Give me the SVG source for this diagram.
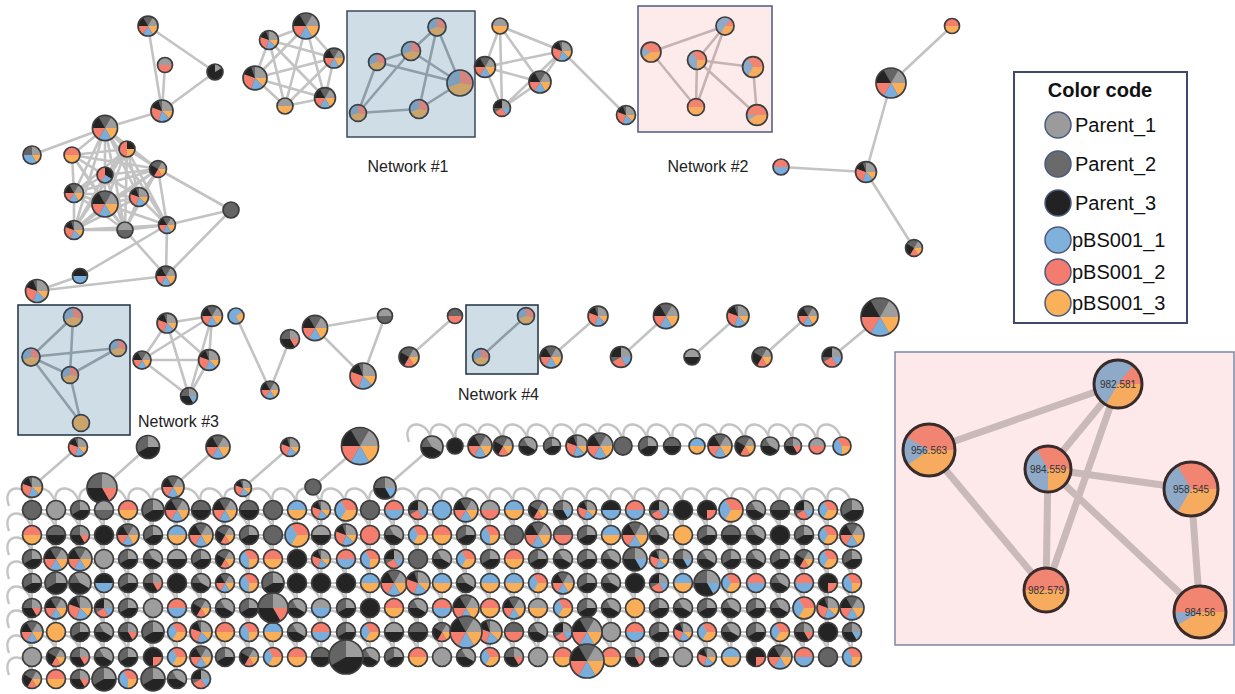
<svg xmlns="http://www.w3.org/2000/svg" width="1235" height="694" viewBox="0 0 1235 694">
<style>
.l{fill:#9d9d9d}.d{fill:#646464}.k{fill:#242424}.b{fill:#79addb}.r{fill:#f57d6d}.o{fill:#fbae58}
.qb{fill:#7e9fbd}.qr{fill:#d4857f}.qo{fill:#cba46c}
.pb{fill:#8eaac8}.pr{fill:#f28572}.po{fill:#f7ab5f}
.ol{fill:none;stroke:#3d3d3d;stroke-width:1.7;vector-effect:non-scaling-stroke}
.oq{fill:none;stroke:#35414c;stroke-width:1.7;vector-effect:non-scaling-stroke}
.e{fill:none;stroke:#c3c3c3;stroke-width:2.6}
.eq{fill:none;stroke:#8e9ea9;stroke-width:2.6}
.ep{fill:none;stroke:#c6b2b2;stroke-width:2.6}
.ei{fill:none;stroke:#c9b9b9;stroke-width:7}
.lp{fill:none;stroke:#c4c4c4;stroke-width:2.4}
.gr{fill:none;stroke:#c7c7c7;stroke-width:2}
.row{fill:none;stroke:#c7c7c7;stroke-width:2;marker-start:url(#lp);marker-mid:url(#lp);marker-end:url(#lp)}
.ring{fill:none;stroke:#3a2b2b;stroke-width:3}
.nl{font-family:"Liberation Sans",Arial,sans-serif;font-size:16px;fill:#222}
.il{font-family:"Liberation Sans",Arial,sans-serif;font-size:10px;fill:#333;text-anchor:middle}
.lg{font-family:"Liberation Sans",Arial,sans-serif;font-size:20px;fill:#111}
.lc{stroke:#4b5a7e;stroke-width:1.5}
</style>
<defs>
<marker id="lp" markerUnits="userSpaceOnUse" markerWidth="50" markerHeight="50" refX="40" refY="40" orient="0" overflow="visible"><path class="lp" d="M40 40C40 12 8 12 17 36"/></marker>
<g id="M"><circle r="9.5" class="d"/><path class="l" d="M0 0L4.75-8.23A9.5 9.5 0 0 1 9.5 0z"/><path class="o" d="M0 0L9.5 0A9.5 9.5 0 0 1 4.75 8.23z"/><path class="b" d="M0 0L4.75 8.23A9.5 9.5 0 0 1-4.75 8.23z"/><path class="r" d="M0 0L-4.75 8.23A9.5 9.5 0 0 1-9.5 0z"/><path class="k" d="M0 0L-9.5 0A9.5 9.5 0 0 1-4.75-8.23z"/><circle r="9.5" class="ol"/></g>
<g id="N"><circle r="9.5" class="d"/><path class="l" d="M0 0L0-9.5A9.5 9.5 0 0 1 9.5 0z"/><path class="o" d="M0 0L9.5 0A9.5 9.5 0 0 1 6.72 6.72z"/><path class="b" d="M0 0L6.72 6.72A9.5 9.5 0 0 1-3.25 8.93z"/><path class="r" d="M0 0L-3.25 8.93A9.5 9.5 0 0 1-8.93-3.25z"/><path class="k" d="M0 0L-8.93-3.25A9.5 9.5 0 0 1-3.25-8.93z"/><circle r="9.5" class="ol"/></g>
<g id="G"><circle r="9.5" class="d"/><path class="l" d="M0 0L0-9.5A9.5 9.5 0 0 1 9.5 0z"/><path class="k" d="M0 0L9.5 0A9.5 9.5 0 0 1-8.23 4.75z"/><circle r="9.5" class="ol"/></g>
<g id="H"><circle r="9.5" class="d"/><path class="l" d="M0 0L-4.75-8.23A9.5 9.5 0 0 1 8.23 4.75z"/><path class="k" d="M0 0L8.23 4.75A9.5 9.5 0 0 1-9.5 0z"/><circle r="9.5" class="ol"/></g>
<g id="GR"><circle r="9.5" class="d"/><path class="l" d="M0 0L0-9.5A9.5 9.5 0 0 1 9.5 0z"/><path class="r" d="M0 0L9.5 0A9.5 9.5 0 0 1 4.75 8.23z"/><path class="k" d="M0 0L4.75 8.23A9.5 9.5 0 0 1-9.5 0z"/><circle r="9.5" class="ol"/></g>
<g id="GB"><circle r="9.5" class="d"/><path class="l" d="M0 0L0-9.5A9.5 9.5 0 0 1 9.5 0z"/><path class="b" d="M0 0L9.5 0A9.5 9.5 0 0 1 4.75 8.23z"/><path class="k" d="M0 0L4.75 8.23A9.5 9.5 0 0 1-9.5 0z"/><circle r="9.5" class="ol"/></g>
<g id="GRO"><circle r="9.5" class="d"/><path class="l" d="M0 0L4.75-8.23A9.5 9.5 0 0 1 9.5 0z"/><path class="o" d="M0 0L9.5 0A9.5 9.5 0 0 1 4.75 8.23z"/><path class="r" d="M0 0L4.75 8.23A9.5 9.5 0 0 1-4.75 8.23z"/><path class="k" d="M0 0L-4.75 8.23A9.5 9.5 0 0 1-8.23-4.75z"/><circle r="9.5" class="ol"/></g>
<g id="GRB"><circle r="9.5" class="d"/><path class="k" d="M0 0L-9.5 0A9.5 9.5 0 0 1 0-9.5z"/><path class="l" d="M0 0L0-9.5A9.5 9.5 0 0 1 9.5 0z"/><path class="b" d="M0 0L9.5 0A9.5 9.5 0 0 1 4.75 8.23z"/><path class="r" d="M0 0L4.75 8.23A9.5 9.5 0 0 1-8.23 4.75z"/><circle r="9.5" class="ol"/></g>
<g id="GBO"><circle r="9.5" class="d"/><path class="l" d="M0 0L0-9.5A9.5 9.5 0 0 1 9.5 0z"/><path class="o" d="M0 0L9.5 0A9.5 9.5 0 0 1 4.75 8.23z"/><path class="b" d="M0 0L4.75 8.23A9.5 9.5 0 0 1-9.5 0z"/><circle r="9.5" class="ol"/></g>
<g id="RO"><circle r="9.5" class="o"/><path class="r" d="M-9.5 0A9.5 9.5 0 0 1 9.5 0z"/><circle r="9.5" class="ol"/></g>
<g id="BO"><circle r="9.5" class="o"/><path class="b" d="M-9.5 0A9.5 9.5 0 0 1 9.5 0z"/><circle r="9.5" class="ol"/></g>
<g id="RB"><circle r="9.5" class="b"/><path class="r" d="M-9.5 0A9.5 9.5 0 0 1 9.5 0z"/><circle r="9.5" class="ol"/></g>
<g id="LR"><circle r="9.5" class="r"/><path class="l" d="M-9.5 0A9.5 9.5 0 0 1 9.5 0z"/><circle r="9.5" class="ol"/></g>
<g id="DK"><circle r="9.5" class="k"/><path class="d" d="M-9.5 0A9.5 9.5 0 0 1 9.5 0z"/><circle r="9.5" class="ol"/></g>
<g id="LK"><circle r="9.5" class="k"/><path class="l" d="M-9.5 0A9.5 9.5 0 0 1 9.5 0z"/><circle r="9.5" class="ol"/></g>
<g id="KB"><circle r="9.5" class="b"/><path class="k" d="M-9.5 0A9.5 9.5 0 0 1 9.5 0z"/><circle r="9.5" class="ol"/></g>
<g id="DR"><circle r="9.5" class="r"/><path class="d" d="M-9.5 0A9.5 9.5 0 0 1 9.5 0z"/><circle r="9.5" class="ol"/></g>
<g id="LO"><circle r="9.5" class="o"/><path class="l" d="M-9.5 0A9.5 9.5 0 0 1 9.5 0z"/><circle r="9.5" class="ol"/></g>
<g id="LD"><circle r="9.5" class="d"/><path class="l" d="M-9.5 0A9.5 9.5 0 0 1 9.5 0z"/><circle r="9.5" class="ol"/></g>
<g id="LB"><circle r="9.5" class="b"/><path class="l" d="M-9.5 0A9.5 9.5 0 0 1 9.5 0z"/><circle r="9.5" class="ol"/></g>
<g id="RBO"><circle r="9.5" class="o"/><path class="r" d="M0 0L-4.75-8.23A9.5 9.5 0 0 1 9.5 0z"/><path class="b" d="M0 0L-4.75 8.23A9.5 9.5 0 0 1-4.75-8.23z"/><circle r="9.5" class="ol"/></g>
<g id="BRO"><circle r="9.5" class="o"/><path class="b" d="M0 0L0 9.5A9.5 9.5 0 0 1-4.75-8.23z"/><path class="r" d="M0 0L-4.75-8.23A9.5 9.5 0 0 1 9.5 0z"/><circle r="9.5" class="ol"/></g>
<g id="KR"><circle r="9.5" class="k"/><path class="r" d="M0 0L9.5 0A9.5 9.5 0 0 1 0 9.5z"/><circle r="9.5" class="ol"/></g>
<g id="KL"><circle r="9.5" class="k"/><path class="l" d="M0 0L0-9.5A9.5 9.5 0 0 1 8.23-4.75z"/><circle r="9.5" class="ol"/></g>
<g id="RKO"><circle r="9.5" class="r"/><path class="k" d="M0 0L0-9.5A9.5 9.5 0 0 1 9.5 0z"/><path class="o" d="M0 0L9.5 0A9.5 9.5 0 0 1 0 9.5z"/><circle r="9.5" class="ol"/></g>
<g id="RKB"><circle r="9.5" class="r"/><path class="k" d="M0 0L0-9.5A9.5 9.5 0 0 1 8.23 4.75z"/><path class="b" d="M0 0L8.23 4.75A9.5 9.5 0 0 1-4.75 8.23z"/><circle r="9.5" class="ol"/></g>
<g id="BO2"><circle r="9.5" class="b"/><path class="o" d="M0 0L8.23-4.75A9.5 9.5 0 0 1 4.75 8.23z"/><circle r="9.5" class="ol"/></g>
<g id="sL"><circle r="9.5" class="l"/><circle r="9.5" class="ol"/></g>
<g id="sD"><circle r="9.5" class="d"/><circle r="9.5" class="ol"/></g>
<g id="sK"><circle r="9.5" class="k"/><circle r="9.5" class="ol"/></g>
<g id="sO"><circle r="9.5" class="o"/><circle r="9.5" class="ol"/></g>
<g id="sB"><circle r="9.5" class="b"/><circle r="9.5" class="ol"/></g>
<g id="sR"><circle r="9.5" class="r"/><circle r="9.5" class="ol"/></g>
<g id="mA"><circle r="9.5" class="qo"/><path class="qr" d="M0 0L0-9.5A9.5 9.5 0 0 1 9.36 1.65z"/><path class="qb" d="M0 0L-8.93 3.25A9.5 9.5 0 0 1 0-9.5z"/><circle r="9.5" class="oq"/></g>
<g id="mO"><circle r="9.5" class="qo"/><circle r="9.5" class="oq"/></g>
<g id="p581"><circle r="9.5" class="pb"/><path class="pr" d="M0 0L6.11-7.28A9.5 9.5 0 0 1 9.5 0z"/><path class="po" d="M0 0L9.5 0A9.5 9.5 0 0 1-4.75 8.23z"/><circle r="9.5" class="ol"/></g>
<g id="p563"><circle r="9.5" class="pb"/><path class="pr" d="M0 0L-8.23-4.75A9.5 9.5 0 0 1 9.5 0z"/><path class="po" d="M0 0L9.5 0A9.5 9.5 0 0 1-7.78 5.45z"/><circle r="9.5" class="ol"/></g>
<g id="p559"><circle r="9.5" class="pb"/><path class="pr" d="M0 0L-4.75-8.23A9.5 9.5 0 0 1 9.5 0z"/><path class="po" d="M0 0L9.5 0A9.5 9.5 0 0 1 0 9.5z"/><circle r="9.5" class="ol"/></g>
<g id="p545"><circle r="9.5" class="pb"/><path class="pr" d="M0 0L-4.75-8.23A9.5 9.5 0 0 1 9.5 0z"/><path class="po" d="M0 0L9.5 0A9.5 9.5 0 0 1-4.75 8.23z"/><circle r="9.5" class="ol"/></g>
<g id="p579"><circle r="9.5" class="po"/><path class="pr" d="M-9.5 0A9.5 9.5 0 0 1 9.5 0z"/><circle r="9.5" class="ol"/></g>
<g id="p56"><circle r="9.5" class="pb"/><path class="pr" d="M-9.5 0A9.5 9.5 0 0 1 9.5 0z"/><path class="po" d="M0 0L9.5 0A9.5 9.5 0 0 1-8.23 4.75z"/><circle r="9.5" class="ol"/></g>
</defs>
<rect width="1235" height="694" fill="#fff"/>
<g id="boxes">
<rect x="347" y="11" width="128" height="126" fill="#cedde6" stroke="#3a4b5a" stroke-width="1.5"/>
<rect x="638" y="6" width="134" height="126" fill="#fdeaea" stroke="#4d5a80" stroke-width="1.5"/>
<rect x="18" y="305" width="112" height="130" fill="#cedde6" stroke="#1f3142" stroke-width="1.5"/>
<rect x="466" y="305" width="72" height="69" fill="#cedde6" stroke="#1f3142" stroke-width="1.5"/>
<rect x="895" y="352" width="339" height="293" fill="#fde9e9" stroke="#7b87a6" stroke-width="1.5"/>
</g>
<g id="connectors">
<path class="e" d="M148 26L215 72M148 26L162 111M165 65L162 111M215 72L162 111M162 111L105 128M105 128L32 155M105 128L72 155M105 128L127 149M105 128L158 169M105 128L105 175M105 128L74 193M105 128L139 197M105 128L105 204M105 128L74 230M105 128L125 230M105 128L167 225M72 155L127 149M72 155L158 169M72 155L105 175M72 155L74 193M72 155L139 197M72 155L105 204M72 155L125 230M127 149L158 169M127 149L105 175M127 149L74 193M127 149L139 197M127 149L105 204M127 149L74 230M127 149L125 230M127 149L167 225M158 169L105 175M158 169L74 193M158 169L139 197M158 169L105 204M158 169L74 230M158 169L125 230M158 169L167 225M158 169L231 210M105 175L74 193M105 175L139 197M105 175L105 204M105 175L74 230M105 175L125 230M74 193L139 197M74 193L105 204M74 193L74 230M74 193L125 230M139 197L105 204M139 197L74 230M139 197L125 230M139 197L167 225M105 204L74 230M105 204L125 230M105 204L167 225M74 230L125 230M74 230L167 225M125 230L167 225M125 230L166 276M167 225L231 210M167 225L166 276M167 225L80 276M231 210L166 276M80 276L37 291M37 291L166 276"/>
<path class="e" d="M269 40L306 26M269 40L334 58M269 40L255 78M269 40L325 98M269 40L285 106M306 26L334 58M306 26L255 78M306 26L325 98M306 26L285 106M334 58L255 78M334 58L325 98M334 58L285 106M255 78L325 98M255 78L285 106M325 98L285 106"/>
<path class="eq" d="M437 27L411 51M437 27L419 109M437 27L460 83M411 51L377 62M411 51L460 83M411 51L358 113M377 62L460 83M377 62L358 113M419 109L460 83M358 113L419 109"/>
<path class="e" d="M500 26L485 67M500 26L540 82M500 26L502 108M500 26L562 51M485 67L562 51M485 67L540 82M485 67L502 108M562 51L540 82M562 51L502 108M540 82L502 108M562 51L626 115"/>
<path class="ep" d="M725 26L651 52M725 26L697 60M725 26L696 107M651 52L696 107M697 60L753 67M697 60L696 107M697 60L757 115M753 67L757 115"/>
<path class="e" d="M952 26L891 83M891 83L866 172M781 167L866 172M866 172L914 248"/>
<path class="eq" d="M73 317L31 357M73 317L70 375M31 357L118 348M31 357L70 375M31 357L81 423M70 375L118 348M70 375L81 423M526 316L481 357"/>
<path class="e" d="M167 323L212 316M167 323L142 360M167 323L209 360M167 323L189 396M212 316L142 360M212 316L209 360M212 316L189 396M142 360L209 360M142 360L189 396M209 360L189 396M236 316L270 390M270 390L290 339M315 328L385 316M315 328L363 376M385 316L363 376M409 357L455 316M551 357L598 316M621 357L666 316M692 357L738 316M762 357L808 316M832 357L880 317"/>
<path class="e" d="M78 447L32 487M148 447L102 488M218 447L173 487M290 447L243 488M360 446L313 487M432 447L385 488"/>
<path class="gr" d="M32 510V679M56 510V679M80 510V679M104 510V679M128 510V679M153 510V679M177 510V679M201 510V679M225 510V657M249 510V657M273 510V657M297 510V657M321 510V657M346 510V657M370 510V657M394 510V657M418 510V657M442 510V657M466 510V657M490 510V657M514 510V657M538 510V657M563 510V657M587 510V657M611 510V657M635 510V657M659 510V657M683 510V657M707 510V657M731 510V657M756 510V657M780 510V657M804 510V657M828 510V657M852 510V657"/>
<path class="row" d="M432 446H455H480H503H528H552H577H600H623H648H672H697H720H745H770H793H817H842"/>
<path class="row" d="M32 510H56H80H104H128H153H177H201H225H249H273H297H321H346H370H394H418H442H466H490H514H538H563H587H611H635H659H683H707H731H756H780H804H828H852"/>
<path class="row" d="M32 535H56H80H104H128H153H177H201H225H249H273H297H321H346H370H394H418H442H466H490H514H538H563H587H611H635H659H683H707H731H756H780H804H828H852"/>
<path class="row" d="M32 559H56H80H104H128H153H177H201H225H249H273H297H321H346H370H394H418H442H466H490H514H538H563H587H611H635H659H683H707H731H756H780H804H828H852"/>
<path class="row" d="M32 583H56H80H104H128H153H177H201H225H249H273H297H321H346H370H394H418H442H466H490H514H538H563H587H611H635H659H683H707H731H756H780H804H828H852"/>
<path class="row" d="M32 608H56H80H104H128H153H177H201H225H249H273H297H321H346H370H394H418H442H466H490H514H538H563H587H611H635H659H683H707H731H756H780H804H828H852"/>
<path class="row" d="M32 632H56H80H104H128H153H177H201H225H249H273H297H321H346H370H394H418H442H466H490H514H538H563H587H611H635H659H683H707H731H756H780H804H828H852"/>
<path class="row" d="M32 657H56H80H104H128H153H177H201H225H249H273H297H321H346H370H394H418H442H466H490H514H538H563H587H611H635H659H683H707H731H756H780H804H828H852"/>
<path class="row" d="M32 679H56H80H104H128H153H177H201"/>
<path class="ei" d="M1118 384L929 450M1118 384L1048 469M1118 384L1046 590M929 450L1046 590M1048 469L1191 489M1048 469L1046 590M1048 469L1200 612M1191 489L1200 612"/>
</g>
<g id="top-nodes">
<g id="n1"><use href="#M" transform="translate(148 26) scale(1.05)"/></g>
<g id="n2"><use href="#LR" transform="translate(165 65) scale(.79)"/></g>
<g id="n3"><use href="#KL" transform="translate(215 72) scale(.84)"/></g>
<g id="n4"><use href="#N" transform="translate(162 111) scale(1.16)"/></g>
<g id="n5"><use href="#M" transform="translate(105 128) scale(1.32)"/></g>
<g id="n6"><use href="#GBO" transform="translate(32 155) scale(.95)"/></g>
<g id="n7"><use href="#RO" transform="translate(72 155) scale(.84)"/></g>
<g id="n8"><use href="#RKO" transform="translate(127 149) scale(.84)"/></g>
<g id="n9"><use href="#GRO" transform="translate(158 169) scale(.89)"/></g>
<g id="n10"><use href="#RKB" transform="translate(105 175) scale(.84)"/></g>
<g id="n11"><use href="#M" x="74" y="193"/></g>
<g id="n12"><use href="#N" x="139" y="197"/></g>
<g id="n13"><use href="#M" transform="translate(105 204) scale(1.37)"/></g>
<g id="n14"><use href="#sD" transform="translate(231 210) scale(.84)"/></g>
<g id="n15"><use href="#N" x="74" y="230"/></g>
<g id="n16"><use href="#LD" transform="translate(125 230) scale(.84)"/></g>
<g id="n17"><use href="#M" transform="translate(167 225) scale(.89)"/></g>
<g id="n18"><use href="#KB" transform="translate(80 276) scale(.79)"/></g>
<g id="n19"><use href="#M" transform="translate(166 276) scale(1.05)"/></g>
<g id="n20"><use href="#N" transform="translate(37 291) scale(1.21)"/></g>
<g id="a1"><use href="#N" x="269" y="40"/></g>
<g id="a2"><use href="#M" transform="translate(306 26) scale(1.37)"/></g>
<g id="a3"><use href="#M" transform="translate(334 58) scale(1.05)"/></g>
<g id="a4"><use href="#N" transform="translate(255 78) scale(1.26)"/></g>
<g id="a5"><use href="#M" transform="translate(325 98) scale(1.1)"/></g>
<g id="a6"><use href="#LO" transform="translate(285 106) scale(.84)"/></g>
<g id="b1"><use href="#mA" transform="translate(437 27) scale(.95)"/></g>
<g id="b2"><use href="#mA" x="411" y="51"/></g>
<g id="b3"><use href="#mA" transform="translate(377 62) scale(.89)"/></g>
<g id="b4"><use href="#mA" transform="translate(460 83) scale(1.37)"/></g>
<g id="b5"><use href="#mA" x="419" y="109"/></g>
<g id="b6"><use href="#mA" transform="translate(358 113) scale(.89)"/></g>
<g id="c1"><use href="#LO" transform="translate(500 26) scale(.84)"/></g>
<g id="c2"><use href="#M" transform="translate(485 67) scale(1.1)"/></g>
<g id="c3"><use href="#N" transform="translate(562 51) scale(1.05)"/></g>
<g id="c4"><use href="#M" transform="translate(540 82) scale(1.16)"/></g>
<g id="c5"><use href="#GRB" transform="translate(502 108) scale(.89)"/></g>
<g id="c6"><use href="#N" x="626" y="115"/></g>
<g id="d1"><use href="#p581" transform="translate(725 26) scale(.95)"/></g>
<g id="d2"><use href="#p563" transform="translate(651 52) scale(1.05)"/></g>
<g id="d3"><use href="#p559" x="697" y="60"/></g>
<g id="d4"><use href="#p545" transform="translate(753 67) scale(1.1)"/></g>
<g id="d5"><use href="#p579" transform="translate(696 107) scale(.89)"/></g>
<g id="d6"><use href="#p56" transform="translate(757 115) scale(1.1)"/></g>
<g id="e1"><use href="#RO" transform="translate(952 26) scale(.79)"/></g>
<g id="e2"><use href="#M" transform="translate(891 83) scale(1.58)"/></g>
<g id="e3"><use href="#RB" transform="translate(781 167) scale(.84)"/></g>
<g id="e4"><use href="#N" transform="translate(866 172) scale(1.1)"/></g>
<g id="e5"><use href="#GRO" transform="translate(914 248) scale(.89)"/></g>
</g>
<g id="mid-nodes">
<g id="f1"><use href="#mA" x="73" y="317"/></g>
<g id="f2"><use href="#mA" transform="translate(31 357) scale(.95)"/></g>
<g id="f3"><use href="#mA" transform="translate(118 348) scale(.89)"/></g>
<g id="f4"><use href="#mA" transform="translate(70 375) scale(.89)"/></g>
<g id="f5"><use href="#mO" transform="translate(81 423) scale(.89)"/></g>
<g id="g1"><use href="#N" transform="translate(167 323) scale(1.05)"/></g>
<g id="g2"><use href="#M" transform="translate(212 316) scale(1.1)"/></g>
<g id="g3"><use href="#M" transform="translate(142 360) scale(.95)"/></g>
<g id="g4"><use href="#N" transform="translate(209 360) scale(1.1)"/></g>
<g id="g5"><use href="#GB" transform="translate(189 396) scale(.89)"/></g>
<g id="h1"><use href="#BO2" transform="translate(236 316) scale(.84)"/></g>
<g id="h2"><use href="#M" transform="translate(270 390) scale(.95)"/></g>
<g id="h3"><use href="#GR" x="290" y="339"/></g>
<g id="i1"><use href="#M" transform="translate(315 328) scale(1.32)"/></g>
<g id="i2"><use href="#LD" transform="translate(385 316) scale(.79)"/></g>
<g id="i3"><use href="#N" transform="translate(363 376) scale(1.37)"/></g>
<g id="j1"><use href="#GRO" transform="translate(409 357) scale(1.05)"/></g>
<g id="j2"><use href="#DR" transform="translate(455 316) scale(.79)"/></g>
<g id="k1"><use href="#mA" transform="translate(526 316) scale(.89)"/></g>
<g id="k2"><use href="#mA" transform="translate(481 357) scale(.89)"/></g>
<g id="q1"><use href="#M" transform="translate(551 357) scale(1.16)"/></g>
<g id="q2"><use href="#N" transform="translate(598 316) scale(1.05)"/></g>
<g id="q3"><use href="#GRB" transform="translate(621 357) scale(1.1)"/></g>
<g id="q4"><use href="#M" transform="translate(666 316) scale(1.32)"/></g>
<g id="q5"><use href="#LK" transform="translate(692 357) scale(.84)"/></g>
<g id="q6"><use href="#N" transform="translate(738 316) scale(1.16)"/></g>
<g id="q7"><use href="#GRO" transform="translate(762 357) scale(1.05)"/></g>
<g id="q8"><use href="#M" transform="translate(808 316) scale(1.05)"/></g>
<g id="q9"><use href="#GRB" transform="translate(832 357) scale(1.05)"/></g>
<g id="q10"><use href="#M" transform="translate(880 317) scale(2)"/></g>
</g>
<g id="grid-nodes">
<g id="ra1"><use href="#N" x="78" y="447"/></g>
<g id="ra2"><use href="#G" transform="translate(148 447) scale(1.21)"/></g>
<g id="ra3"><use href="#M" transform="translate(218 447) scale(1.26)"/></g>
<g id="ra4"><use href="#N" x="290" y="447"/></g>
<g id="ra5"><use href="#M" transform="translate(360 446) scale(1.95)"/></g>
<g id="ra6"><use href="#H" transform="translate(432 447) scale(1.16)"/></g>
<g id="rb1"><use href="#N" transform="translate(32 487) scale(1.1)"/></g>
<g id="rb2"><use href="#GR" transform="translate(102 488) scale(1.58)"/></g>
<g id="rb3"><use href="#M" transform="translate(173 487) scale(1.16)"/></g>
<g id="rb4"><use href="#N" transform="translate(243 488) scale(.89)"/></g>
<g id="rb5"><use href="#sD" transform="translate(313 487) scale(.84)"/></g>
<g id="rb6"><use href="#GB" transform="translate(385 488) scale(1.16)"/></g>
<g id="ch1"><use href="#sK" transform="translate(455 446) scale(.84)"/></g>
<g id="ch2"><use href="#M" transform="translate(480 446) scale(1.26)"/></g>
<g id="ch3"><use href="#GRO" transform="translate(503 446) scale(1.05)"/></g>
<g id="ch4"><use href="#H" transform="translate(528 446) scale(.95)"/></g>
<g id="ch5"><use href="#G" transform="translate(552 446) scale(.89)"/></g>
<g id="ch6"><use href="#N" transform="translate(577 446) scale(1.16)"/></g>
<g id="ch7"><use href="#M" transform="translate(600 446) scale(1.37)"/></g>
<g id="ch8"><use href="#sD" transform="translate(623 446) scale(.95)"/></g>
<g id="ch9"><use href="#G" x="648" y="446"/></g>
<g id="ch10"><use href="#DK" transform="translate(672 446) scale(.89)"/></g>
<g id="ch11"><use href="#BO" transform="translate(697 446) scale(.84)"/></g>
<g id="ch12"><use href="#M" transform="translate(720 446) scale(1.26)"/></g>
<g id="ch13"><use href="#GRO" transform="translate(745 446) scale(1.05)"/></g>
<g id="ch14"><use href="#H" transform="translate(770 446) scale(.95)"/></g>
<g id="ch15"><use href="#GR" transform="translate(793 446) scale(.89)"/></g>
<g id="ch16"><use href="#LR" transform="translate(817 446) scale(.84)"/></g>
<g id="ch17"><use href="#BRO" transform="translate(842 446) scale(.95)"/></g>
<g id="r0c0"><use href="#sD" x="32" y="510"/></g><g id="r0c1"><use href="#sL" x="56" y="510"/></g><g id="r0c2"><use href="#G" x="80" y="510"/></g><g id="r0c3"><use href="#LD" x="104" y="510"/></g><g id="r0c4"><use href="#RO" x="128" y="510"/></g><g id="r0c7"><use href="#DK" x="201" y="510"/></g><g id="r0c9"><use href="#DK" x="249" y="510"/></g><g id="r0c10"><use href="#sD" x="273" y="510"/></g><g id="r0c11"><use href="#BO" x="297" y="510"/></g><g id="r0c12"><use href="#N" x="321" y="510"/></g><g id="r0c14"><use href="#sD" x="370" y="510"/></g><g id="r0c15"><use href="#RB" x="394" y="510"/></g><g id="r0c16"><use href="#GRB" x="418" y="510"/></g><g id="r0c17"><use href="#sB" x="442" y="510"/></g><g id="r0c19"><use href="#LR" x="490" y="510"/></g><g id="r0c20"><use href="#BO" x="514" y="510"/></g><g id="r0c21"><use href="#GRO" x="538" y="510"/></g><g id="r0c22"><use href="#GB" x="563" y="510"/></g><g id="r0c23"><use href="#N" x="587" y="510"/></g><g id="r0c24"><use href="#KB" x="611" y="510"/></g><g id="r0c25"><use href="#RB" x="635" y="510"/></g><g id="r0c26"><use href="#GRB" x="659" y="510"/></g><g id="r0c27"><use href="#sK" x="683" y="510"/></g><g id="r0c28"><use href="#KR" x="707" y="510"/></g><g id="r0c30"><use href="#H" x="756" y="510"/></g><g id="r0c31"><use href="#DK" x="780" y="510"/></g><g id="r0c32"><use href="#GRB" x="804" y="510"/></g><g id="r0c33"><use href="#RBO" x="828" y="510"/></g>
<g id="r1c0"><use href="#RO" x="32" y="535"/></g><g id="r1c1"><use href="#DK" x="56" y="535"/></g><g id="r1c2"><use href="#GR" x="80" y="535"/></g><g id="r1c3"><use href="#sK" x="104" y="535"/></g><g id="r1c5"><use href="#G" x="153" y="535"/></g><g id="r1c6"><use href="#BO" x="177" y="535"/></g><g id="r1c8"><use href="#GRO" x="225" y="535"/></g><g id="r1c9"><use href="#G" x="249" y="535"/></g><g id="r1c10"><use href="#sD" x="273" y="535"/></g><g id="r1c12"><use href="#LK" x="321" y="535"/></g><g id="r1c14"><use href="#sR" x="370" y="535"/></g><g id="r1c15"><use href="#H" x="394" y="535"/></g><g id="r1c16"><use href="#RBO" x="418" y="535"/></g><g id="r1c17"><use href="#RO" x="442" y="535"/></g><g id="r1c18"><use href="#G" x="466" y="535"/></g><g id="r1c19"><use href="#BRO" x="490" y="535"/></g><g id="r1c20"><use href="#sD" x="514" y="535"/></g><g id="r1c22"><use href="#DR" x="563" y="535"/></g><g id="r1c23"><use href="#G" x="587" y="535"/></g><g id="r1c24"><use href="#BO" x="611" y="535"/></g><g id="r1c26"><use href="#H" x="659" y="535"/></g><g id="r1c27"><use href="#sO" x="683" y="535"/></g><g id="r1c28"><use href="#G" x="707" y="535"/></g><g id="r1c29"><use href="#DK" x="731" y="535"/></g><g id="r1c30"><use href="#H" x="756" y="535"/></g><g id="r1c31"><use href="#sK" x="780" y="535"/></g><g id="r1c32"><use href="#G" x="804" y="535"/></g><g id="r1c33"><use href="#RBO" x="828" y="535"/></g>
<g id="r2c0"><use href="#G" x="32" y="559"/></g><g id="r2c3"><use href="#sL" x="104" y="559"/></g><g id="r2c4"><use href="#G" x="128" y="559"/></g><g id="r2c5"><use href="#H" x="153" y="559"/></g><g id="r2c6"><use href="#LK" x="177" y="559"/></g><g id="r2c7"><use href="#G" x="201" y="559"/></g><g id="r2c8"><use href="#GRO" x="225" y="559"/></g><g id="r2c9"><use href="#BRO" x="249" y="559"/></g><g id="r2c10"><use href="#RO" x="273" y="559"/></g><g id="r2c11"><use href="#sK" x="297" y="559"/></g><g id="r2c12"><use href="#N" x="321" y="559"/></g><g id="r2c13"><use href="#RB" x="346" y="559"/></g><g id="r2c14"><use href="#BRO" x="370" y="559"/></g><g id="r2c15"><use href="#GRB" x="394" y="559"/></g><g id="r2c16"><use href="#sD" x="418" y="559"/></g><g id="r2c17"><use href="#H" x="442" y="559"/></g><g id="r2c18"><use href="#RBO" x="466" y="559"/></g><g id="r2c19"><use href="#G" x="490" y="559"/></g><g id="r2c20"><use href="#RO" x="514" y="559"/></g><g id="r2c21"><use href="#G" x="538" y="559"/></g><g id="r2c22"><use href="#H" x="563" y="559"/></g><g id="r2c23"><use href="#G" x="587" y="559"/></g><g id="r2c24"><use href="#H" x="611" y="559"/></g><g id="r2c26"><use href="#N" x="659" y="559"/></g><g id="r2c27"><use href="#GB" x="683" y="559"/></g><g id="r2c28"><use href="#H" x="707" y="559"/></g><g id="r2c29"><use href="#G" x="731" y="559"/></g><g id="r2c30"><use href="#H" x="756" y="559"/></g><g id="r2c31"><use href="#G" x="780" y="559"/></g><g id="r2c32"><use href="#GRO" x="804" y="559"/></g><g id="r2c33"><use href="#RBO" x="828" y="559"/></g><g id="r2c34"><use href="#G" x="852" y="559"/></g>
<g id="r3c0"><use href="#G" x="32" y="583"/></g><g id="r3c3"><use href="#KB" x="104" y="583"/></g><g id="r3c4"><use href="#G" x="128" y="583"/></g><g id="r3c5"><use href="#GR" x="153" y="583"/></g><g id="r3c6"><use href="#sK" x="177" y="583"/></g><g id="r3c7"><use href="#H" x="201" y="583"/></g><g id="r3c8"><use href="#M" x="225" y="583"/></g><g id="r3c9"><use href="#BRO" x="249" y="583"/></g><g id="r3c11"><use href="#sK" x="297" y="583"/></g><g id="r3c12"><use href="#sK" x="321" y="583"/></g><g id="r3c13"><use href="#sK" x="346" y="583"/></g><g id="r3c14"><use href="#BO" x="370" y="583"/></g><g id="r3c17"><use href="#BO" x="442" y="583"/></g><g id="r3c18"><use href="#H" x="466" y="583"/></g><g id="r3c19"><use href="#BO" x="490" y="583"/></g><g id="r3c20"><use href="#BO" x="514" y="583"/></g><g id="r3c21"><use href="#RBO" x="538" y="583"/></g><g id="r3c23"><use href="#G" x="587" y="583"/></g><g id="r3c24"><use href="#H" x="611" y="583"/></g><g id="r3c25"><use href="#sK" x="635" y="583"/></g><g id="r3c26"><use href="#GRB" x="659" y="583"/></g><g id="r3c27"><use href="#BO" x="683" y="583"/></g><g id="r3c29"><use href="#RBO" x="731" y="583"/></g><g id="r3c30"><use href="#RB" x="756" y="583"/></g><g id="r3c31"><use href="#H" x="780" y="583"/></g><g id="r3c32"><use href="#RB" x="804" y="583"/></g><g id="r3c33"><use href="#KR" x="828" y="583"/></g><g id="r3c34"><use href="#BRO" x="852" y="583"/></g>
<g id="r4c0"><use href="#GR" x="32" y="608"/></g><g id="r4c3"><use href="#GRB" x="104" y="608"/></g><g id="r4c4"><use href="#G" x="128" y="608"/></g><g id="r4c5"><use href="#sL" x="153" y="608"/></g><g id="r4c6"><use href="#RB" x="177" y="608"/></g><g id="r4c7"><use href="#GRO" x="201" y="608"/></g><g id="r4c8"><use href="#H" x="225" y="608"/></g><g id="r4c9"><use href="#G" x="249" y="608"/></g><g id="r4c11"><use href="#H" x="297" y="608"/></g><g id="r4c12"><use href="#LB" x="321" y="608"/></g><g id="r4c13"><use href="#G" x="346" y="608"/></g><g id="r4c14"><use href="#sK" x="370" y="608"/></g><g id="r4c15"><use href="#RO" x="394" y="608"/></g><g id="r4c16"><use href="#H" x="418" y="608"/></g><g id="r4c17"><use href="#RB" x="442" y="608"/></g><g id="r4c19"><use href="#RO" x="490" y="608"/></g><g id="r4c21"><use href="#LO" x="538" y="608"/></g><g id="r4c22"><use href="#RBO" x="563" y="608"/></g><g id="r4c23"><use href="#G" x="587" y="608"/></g><g id="r4c24"><use href="#H" x="611" y="608"/></g><g id="r4c25"><use href="#sO" x="635" y="608"/></g><g id="r4c26"><use href="#G" x="659" y="608"/></g><g id="r4c27"><use href="#H" x="683" y="608"/></g><g id="r4c28"><use href="#G" x="707" y="608"/></g><g id="r4c29"><use href="#H" x="731" y="608"/></g><g id="r4c30"><use href="#G" x="756" y="608"/></g><g id="r4c31"><use href="#H" x="780" y="608"/></g>
<g id="r5c1"><use href="#sO" x="56" y="632"/></g><g id="r5c2"><use href="#G" x="80" y="632"/></g><g id="r5c3"><use href="#H" x="104" y="632"/></g><g id="r5c4"><use href="#GR" x="128" y="632"/></g><g id="r5c6"><use href="#RBO" x="177" y="632"/></g><g id="r5c8"><use href="#RO" x="225" y="632"/></g><g id="r5c9"><use href="#BRO" x="249" y="632"/></g><g id="r5c10"><use href="#BO" x="273" y="632"/></g><g id="r5c11"><use href="#H" x="297" y="632"/></g><g id="r5c12"><use href="#RB" x="321" y="632"/></g><g id="r5c13"><use href="#G" x="346" y="632"/></g><g id="r5c14"><use href="#RBO" x="370" y="632"/></g><g id="r5c15"><use href="#LK" x="394" y="632"/></g><g id="r5c16"><use href="#DK" x="418" y="632"/></g><g id="r5c17"><use href="#GRO" x="442" y="632"/></g><g id="r5c20"><use href="#DR" x="514" y="632"/></g><g id="r5c21"><use href="#H" x="538" y="632"/></g><g id="r5c22"><use href="#GRB" x="563" y="632"/></g><g id="r5c24"><use href="#sL" x="611" y="632"/></g><g id="r5c25"><use href="#RB" x="635" y="632"/></g><g id="r5c26"><use href="#G" x="659" y="632"/></g><g id="r5c27"><use href="#N" x="683" y="632"/></g><g id="r5c28"><use href="#RBO" x="707" y="632"/></g><g id="r5c29"><use href="#H" x="731" y="632"/></g><g id="r5c30"><use href="#G" x="756" y="632"/></g><g id="r5c31"><use href="#RBO" x="780" y="632"/></g><g id="r5c32"><use href="#GR" x="804" y="632"/></g><g id="r5c33"><use href="#sK" x="828" y="632"/></g><g id="r5c34"><use href="#GB" x="852" y="632"/></g>
<g id="r6c0"><use href="#sL" x="32" y="657"/></g><g id="r6c1"><use href="#GRO" x="56" y="657"/></g><g id="r6c2"><use href="#GR" x="80" y="657"/></g><g id="r6c3"><use href="#H" x="104" y="657"/></g><g id="r6c4"><use href="#G" x="128" y="657"/></g><g id="r6c5"><use href="#KR" x="153" y="657"/></g><g id="r6c6"><use href="#RBO" x="177" y="657"/></g><g id="r6c8"><use href="#G" x="225" y="657"/></g><g id="r6c9"><use href="#GRO" x="249" y="657"/></g><g id="r6c10"><use href="#RBO" x="273" y="657"/></g><g id="r6c11"><use href="#RO" x="297" y="657"/></g><g id="r6c12"><use href="#DK" x="321" y="657"/></g><g id="r6c14"><use href="#H" x="370" y="657"/></g><g id="r6c15"><use href="#G" x="394" y="657"/></g><g id="r6c16"><use href="#RO" x="418" y="657"/></g><g id="r6c17"><use href="#sL" x="442" y="657"/></g><g id="r6c18"><use href="#H" x="466" y="657"/></g><g id="r6c19"><use href="#RBO" x="490" y="657"/></g><g id="r6c20"><use href="#GR" x="514" y="657"/></g><g id="r6c21"><use href="#sL" x="538" y="657"/></g><g id="r6c22"><use href="#RO" x="563" y="657"/></g><g id="r6c24"><use href="#RO" x="611" y="657"/></g><g id="r6c25"><use href="#GR" x="635" y="657"/></g><g id="r6c26"><use href="#G" x="659" y="657"/></g><g id="r6c27"><use href="#sL" x="683" y="657"/></g><g id="r6c28"><use href="#N" x="707" y="657"/></g><g id="r6c29"><use href="#BO" x="731" y="657"/></g><g id="r6c30"><use href="#KR" x="756" y="657"/></g><g id="r6c32"><use href="#RB" x="804" y="657"/></g><g id="r6c33"><use href="#sD" x="828" y="657"/></g><g id="r6c34"><use href="#BRO" x="852" y="657"/></g>
<g id="r7c0"><use href="#GRO" x="32" y="679"/></g><g id="r7c1"><use href="#RO" x="56" y="679"/></g><g id="r7c2"><use href="#GR" x="80" y="679"/></g><g id="r7c4"><use href="#BRO" x="128" y="679"/></g><g id="r7c6"><use href="#H" x="177" y="679"/></g><g id="r7c7"><use href="#GRB" x="201" y="679"/></g>
<g id="r0c5"><use href="#G" transform="translate(153 510) scale(1.16)"/></g><g id="r0c6"><use href="#M" transform="translate(177 510) scale(1.26)"/></g><g id="r0c8"><use href="#M" transform="translate(225 510) scale(1.26)"/></g><g id="r0c13"><use href="#RBO" transform="translate(346 510) scale(1.16)"/></g><g id="r0c18"><use href="#M" transform="translate(466 510) scale(1.26)"/></g><g id="r0c29"><use href="#RBO" transform="translate(731 510) scale(1.26)"/></g><g id="r0c34"><use href="#G" transform="translate(852 510) scale(1.16)"/></g>
<g id="r1c4"><use href="#M" transform="translate(128 535) scale(1.16)"/></g><g id="r1c7"><use href="#M" transform="translate(201 535) scale(1.26)"/></g><g id="r1c11"><use href="#RBO" transform="translate(297 535) scale(1.26)"/></g><g id="r1c13"><use href="#N" transform="translate(346 535) scale(1.16)"/></g><g id="r1c21"><use href="#M" transform="translate(538 535) scale(1.37)"/></g><g id="r1c25"><use href="#M" transform="translate(635 535) scale(1.37)"/></g><g id="r1c34"><use href="#M" transform="translate(852 535) scale(1.26)"/></g>
<g id="r2c1"><use href="#M" transform="translate(56 559) scale(1.26)"/></g><g id="r2c2"><use href="#M" transform="translate(80 559) scale(1.26)"/></g><g id="r2c25"><use href="#GB" transform="translate(635 559) scale(1.26)"/></g>
<g id="r3c1"><use href="#G" transform="translate(56 583) scale(1.16)"/></g><g id="r3c2"><use href="#H" transform="translate(80 583) scale(1.16)"/></g><g id="r3c10"><use href="#G" transform="translate(273 583) scale(1.16)"/></g><g id="r3c15"><use href="#M" transform="translate(394 583) scale(1.37)"/></g><g id="r3c16"><use href="#N" transform="translate(418 583) scale(1.26)"/></g><g id="r3c22"><use href="#M" transform="translate(563 583) scale(1.16)"/></g><g id="r3c28"><use href="#GB" transform="translate(707 583) scale(1.37)"/></g>
<g id="r4c1"><use href="#M" transform="translate(56 608) scale(1.16)"/></g><g id="r4c2"><use href="#N" transform="translate(80 608) scale(1.26)"/></g><g id="r4c18"><use href="#M" transform="translate(466 608) scale(1.37)"/></g><g id="r4c20"><use href="#M" transform="translate(514 608) scale(1.16)"/></g><g id="r4c32"><use href="#RBO" transform="translate(804 608) scale(1.16)"/></g><g id="r4c33"><use href="#N" transform="translate(828 608) scale(1.16)"/></g><g id="r4c34"><use href="#M" transform="translate(852 608) scale(1.26)"/></g>
<g id="r5c0"><use href="#M" transform="translate(32 632) scale(1.16)"/></g><g id="r5c5"><use href="#G" transform="translate(153 632) scale(1.16)"/></g><g id="r5c7"><use href="#N" transform="translate(201 632) scale(1.16)"/></g><g id="r5c19"><use href="#N" transform="translate(490 632) scale(1.26)"/></g>
<g id="r6c7"><use href="#M" transform="translate(201 657) scale(1.16)"/></g><g id="r6c31"><use href="#M" transform="translate(780 657) scale(1.26)"/></g>
<g id="r7c3"><use href="#G" transform="translate(104 679) scale(1.26)"/></g><g id="r7c5"><use href="#G" transform="translate(153 679) scale(1.26)"/></g>
<g id="r4c10"><use href="#GR" transform="translate(273 608) scale(1.58)"/></g>
<g id="r5c18"><use href="#M" transform="translate(466 632) scale(1.68)"/></g>
<g id="r5c23"><use href="#M" transform="translate(587 632) scale(1.58)"/></g>
<g id="r6c13"><use href="#G" transform="translate(346 657) scale(1.79)"/></g>
<g id="r6c23"><use href="#M" transform="translate(587 661) scale(1.79)"/></g>
</g>
<g id="inset">
<g id="i581"><use href="#p581" transform="translate(1118 384) scale(2.53)"/><circle cx="1118" cy="384" r="24" class="ring"/><text class="il" x="1118" y="388">982.581</text></g>
<g id="i563"><use href="#p563" transform="translate(929 450) scale(2.74)"/><circle cx="929" cy="450" r="26" class="ring"/><text class="il" x="929" y="454">956.563</text></g>
<g id="i559"><use href="#p559" transform="translate(1048 469) scale(2.42)"/><circle cx="1048" cy="469" r="23" class="ring"/><text class="il" x="1048" y="473">984.559</text></g>
<g id="i545"><use href="#p545" transform="translate(1191 489) scale(2.84)"/><circle cx="1191" cy="489" r="27" class="ring"/><text class="il" x="1191" y="493">958.545</text></g>
<g id="i579"><use href="#p579" transform="translate(1046 590) scale(2.32)"/><circle cx="1046" cy="590" r="22" class="ring"/><text class="il" x="1046" y="594">982.579</text></g>
<g id="i56"><use href="#p56" transform="translate(1200 612) scale(2.74)"/><circle cx="1200" cy="612" r="26" class="ring"/><text class="il" x="1200" y="616">984.56</text></g>
</g>
<g id="labels">
<text class="nl" x="408" y="172" text-anchor="middle">Network #1</text>
<text class="nl" x="708" y="172" text-anchor="middle">Network #2</text>
<text class="nl" x="138" y="427">Network #3</text>
<text class="nl" x="458" y="400">Network #4</text>
</g>
<g id="legend">
<rect x="1014" y="72" width="173" height="251" fill="#fff" stroke="#3e4a6d" stroke-width="2"/>
<text class="lg" x="1100" y="97" text-anchor="middle" font-weight="bold">Color code</text>
<circle cx="1058" cy="125" r="13" fill="#9b9b9b" class="lc"/><text class="lg" x="1075" y="132">Parent_1</text>
<circle cx="1058" cy="164" r="13" fill="#6a6a6a" class="lc"/><text class="lg" x="1075" y="171">Parent_2</text>
<circle cx="1058" cy="203" r="13" fill="#222" class="lc"/><text class="lg" x="1075" y="210">Parent_3</text>
<circle cx="1058" cy="240" r="13" fill="#7fb1dc" class="lc"/><text class="lg" x="1072" y="247">pBS001_1</text>
<circle cx="1058" cy="272" r="13" fill="#f47c6e" class="lc"/><text class="lg" x="1072" y="279">pBS001_2</text>
<circle cx="1058" cy="303" r="13" fill="#fbb05a" class="lc"/><text class="lg" x="1072" y="310">pBS001_3</text>
</g>
</svg>
